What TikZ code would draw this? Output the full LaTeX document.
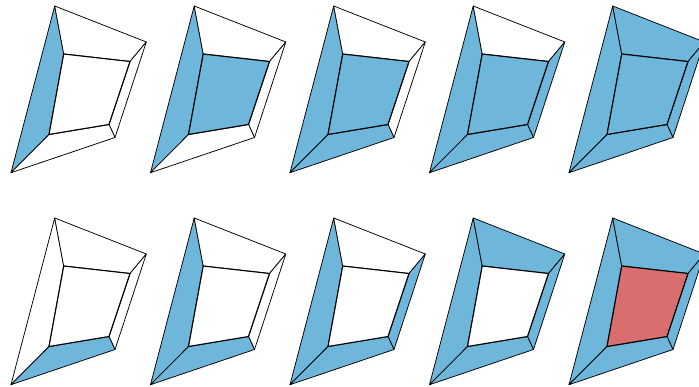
\documentclass[tikz,border=0pt]{standalone}
\definecolor{faceblue}{HTML}{6EB6DA}
\definecolor{facered}{HTML}{D96E6E}
\tikzset{
  edgeline/.style={draw=black,line width=0.75pt,line join=round},
  inneredge/.style={draw=black,line width=1.15pt,line join=round},
  blue face/.style={fill=faceblue},
  red face/.style={fill=facered},
  % face styles, overridden per panel
  fL/.style={fill=white},fR/.style={fill=white},fT/.style={fill=white},fB/.style={fill=white},fI/.style={fill=white},
}
% #1 x offset, #2 y offset, #3 styles
\newcommand{\cubepanel}[3]{%
\begin{scope}[shift={(#1,#2)},#3]
  \coordinate (a) at (54.7,-6);
  \coordinate (b) at (146.3,-42);
  \coordinate (c) at (115,-137.5);
  \coordinate (d) at (11,-172.7);
  \coordinate (e) at (63.7,-54);
  \coordinate (f) at (130,-61.5);
  \coordinate (g) at (109,-124.5);
  \coordinate (h) at (49,-134.5);
  \draw[edgeline,fL] (a) -- (e) -- (h) -- (d) -- cycle;
  \draw[edgeline,fT] (a) -- (b) -- (f) -- (e) -- cycle;
  \draw[edgeline,fR] (b) -- (c) -- (g) -- (f) -- cycle;
  \draw[edgeline,fB] (d) -- (h) -- (g) -- (c) -- cycle;
  \draw[inneredge,fI] (e) -- (f) -- (g) -- (h) -- cycle;
\end{scope}}
\begin{document}
\begin{tikzpicture}[x=1pt,y=1pt]
\useasboundingbox (0,-387) rectangle (699,0);
\clip (0,-387) rectangle (699,0);
\cubepanel{0}{0}{fL/.style={blue face}}
\cubepanel{139.5}{0}{fL/.style={blue face},fI/.style={blue face}}
\cubepanel{279}{0}{fL/.style={blue face},fI/.style={blue face},fB/.style={blue face}}
\cubepanel{418.5}{0}{fL/.style={blue face},fI/.style={blue face},fB/.style={blue face},fR/.style={blue face}}
\cubepanel{558}{0}{fL/.style={blue face},fI/.style={blue face},fB/.style={blue face},fR/.style={blue face},fT/.style={blue face}}
\cubepanel{0}{-212}{fB/.style={blue face}}
\cubepanel{139.5}{-212}{fB/.style={blue face},fL/.style={blue face}}
\cubepanel{279}{-212}{fB/.style={blue face},fL/.style={blue face},fR/.style={blue face}}
\cubepanel{418.5}{-212}{fB/.style={blue face},fL/.style={blue face},fR/.style={blue face},fT/.style={blue face}}
\cubepanel{558}{-212}{fB/.style={blue face},fL/.style={blue face},fR/.style={blue face},fT/.style={blue face},fI/.style={red face}}
\end{tikzpicture}
\end{document}
